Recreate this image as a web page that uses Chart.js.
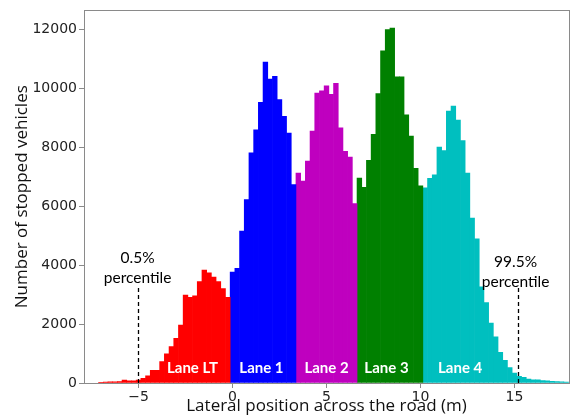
<!DOCTYPE html>
<html>
<head>
<meta charset="utf-8">
<script src="https://cdn.jsdelivr.net/npm/chart.js@4/dist/chart.umd.min.js"></script>
<style>
  html, body { margin: 0; padding: 0; background: #fff; }
  #wrap { width: 574px; height: 419px; }
</style>
</head>
<body>
<div id="wrap"><canvas id="histChart"></canvas></div>
<script>
// Bin centres (m) and counts, one pair of arrays per lane (0.25 m bins)
const ltCenters = [-7.0, -6.75, -6.5, -6.25, -6.0, -5.75, -5.5, -5.25, -5.0, -4.75, -4.5, -4.25, -4.0, -3.75,
  -3.5, -3.25, -3.0, -2.75, -2.5, -2.25, -2.0, -1.75, -1.5, -1.25, -1.0, -0.75, -0.5, -0.25];
const ltCounts = [10, 30, 40, 40, 50, 100, 70, 70, 100, 160, 240, 430, 430, 730,
  990, 1240, 1520, 1970, 2990, 2910, 2960, 3450, 3840, 3740, 3600, 3450, 3210, 2910];

const lane1Centers = [0, 0.25, 0.5, 0.75, 1.0, 1.25, 1.5, 1.75, 2.0, 2.25, 2.5, 2.75, 3.0, 3.25];
const lane1Counts = [3770, 3900, 5160, 6230, 7820, 8600, 9540, 10900, 10330, 10420, 9630, 9060, 8490, 6740];

const lane2Centers = [3.5, 3.75, 4.0, 4.25, 4.5, 4.75, 5.0, 5.25, 5.5, 5.75, 6.0, 6.25, 6.5];
const lane2Counts = [7130, 6860, 7540, 8560, 9850, 9930, 10100, 9810, 10180, 8670, 7870, 7680, 6100];

const lane3Centers = [6.75, 7.0, 7.25, 7.5, 7.75, 8.0, 8.25, 8.5, 8.75, 9.0, 9.25, 9.5, 9.75, 10.0];
const lane3Counts = [6960, 6650, 7570, 8450, 9830, 11290, 12010, 12060, 10400, 10400, 9110, 8390, 7290, 6700];

const lane4Centers = [10.25, 10.5, 10.75, 11.0, 11.25, 11.5, 11.75, 12.0, 12.25, 12.5, 12.75, 13.0, 13.25,
  13.5, 13.75, 14.0, 14.25, 14.5, 14.75, 15.0, 15.25, 15.5, 15.75, 16.0, 16.25, 16.5, 16.75, 17.0, 17.25,
  17.5, 17.75];
const lane4Counts = [6630, 6950, 7070, 8020, 7900, 9240, 9410, 8930, 8240, 7130, 5600, 4900, 3270,
  2730, 2040, 1570, 1040, 770, 520, 340, 230, 190, 130, 110, 110, 80, 70, 60, 50, 40, 30];

const laneNames = ["Lane LT", "Lane 1", "Lane 2", "Lane 3", "Lane 4"];
const laneColors = ["#ff0000", "#0000ff", "#bf00bf", "#008000", "#00bfbf"];

// 0.5% and 99.5% percentile positions (m)
const percentileNames = ["0.5%", "99.5%"];
const percentileValues = [-5.05, 15.21];

const xTicks = [-5, 0, 5, 10, 15];
const yTicks = [0, 2000, 4000, 6000, 8000, 10000, 12000];

// where the lane names sit (data coords)
const laneLabelX = [-2.13, 1.54, 5.0, 8.19, 12.11];
const laneLabelY = 520;

const pairs = (xs, ys) => xs.map((x, i) => ({ x, y: ys[i] }));
const laneData = [
  pairs(ltCenters, ltCounts),
  pairs(lane1Centers, lane1Counts),
  pairs(lane2Centers, lane2Counts),
  pairs(lane3Centers, lane3Counts),
  pairs(lane4Centers, lane4Counts),
];

const axisGray = "#8a8a8a";
const titleFont = "'Open Sans', Lato, sans-serif";

// frame, lane names and percentile markers
const annotations = {
  id: "annotations",
  afterDatasetsDraw(chart) {
    const { ctx, chartArea: a, scales: { x, y } } = chart;
    ctx.save();

    // lane names
    ctx.fillStyle = "#fff";
    ctx.font = "bold 15px Lato, 'Open Sans', sans-serif";
    ctx.textAlign = "center";
    ctx.textBaseline = "middle";
    laneNames.forEach((name, i) => {
      ctx.fillText(name, x.getPixelForValue(laneLabelX[i]), y.getPixelForValue(laneLabelY));
    });

    // percentile lines
    ctx.strokeStyle = "#000";
    ctx.lineWidth = 1.3;
    ctx.setLineDash([4, 3]);
    percentileValues.forEach((v) => {
      const px = Math.round(x.getPixelForValue(v)) + 0.5;
      ctx.beginPath();
      ctx.moveTo(px, y.getPixelForValue(0));
      ctx.lineTo(px, y.getPixelForValue(3270));
      ctx.stroke();
    });
    ctx.setLineDash([]);

    ctx.fillStyle = "#000";
    ctx.font = "15.5px Lato, 'Open Sans', sans-serif";
    const textX = [x.getPixelForValue(-5.05), x.getPixelForValue(15.06)];
    const textY = [[4250, 3580], [4110, 3440]];
    percentileNames.forEach((name, i) => {
      ctx.fillText(name, textX[i], y.getPixelForValue(textY[i][0]));
      ctx.fillText("percentile", textX[i], y.getPixelForValue(textY[i][1]));
    });

    // axes frame
    ctx.strokeStyle = axisGray;
    ctx.lineWidth = 1;
    ctx.strokeRect(Math.round(a.left) + 0.5, Math.round(a.top) + 0.5,
      Math.round(a.right - a.left), Math.round(a.bottom - a.top));
    ctx.restore();
  },
};

new Chart(document.getElementById("histChart"), {
  type: "bar",
  data: {
    datasets: laneData.map((data, i) => ({
      label: laneNames[i],
      data,
      backgroundColor: laneColors[i],
      borderWidth: 0,
      barPercentage: 1,
      categoryPercentage: 1,
      grouped: false,
    })),
  },
  options: {
    responsive: true,
    maintainAspectRatio: false,
    animation: false,
    layout: { padding: { top: 4, right: 5, left: 0, bottom: 0 } },
    plugins: {
      legend: { display: false },
      tooltip: { enabled: false },
    },
    scales: {
      x: {
        type: "linear",
        offset: false,
        min: -7.9,
        max: 17.9,
        afterBuildTicks: (s) => { s.ticks = xTicks.map((v) => ({ value: v })); },
        afterFit: (s) => { s.height = 36; },
        grid: { display: true, drawOnChartArea: false, offset: false, tickLength: 5, tickColor: axisGray },
        border: { display: false },
        ticks: {
          color: "#222",
          padding: 1,
          maxRotation: 0,
          font: { family: "'DejaVu Sans'", size: 14 },
          callback: (v) => (v < 0 ? "\u2212" + Math.abs(v) : String(v)),
        },
        title: {
          display: true,
          text: "Lateral position across the road (m)",
          color: "#111",
          font: { family: titleFont, size: 17 },
          padding: { top: 0, bottom: 3 },
        },
      },
      y: {
        min: 0,
        max: 12660,
        afterBuildTicks: (s) => { s.ticks = yTicks.map((v) => ({ value: v })); },
        afterFit: (s) => { s.width = 84; },
        grid: { display: true, drawOnChartArea: false, tickLength: 5, tickColor: axisGray },
        border: { display: false },
        ticks: {
          color: "#222",
          padding: 2,
          font: { family: "'DejaVu Sans'", size: 14 },
          callback: (v) => String(v),
        },
        title: {
          display: true,
          text: "Number of stopped vehicles",
          color: "#111",
          font: { family: titleFont, size: 17 },
          padding: { top: 12, bottom: 0 },
        },
      },
    },
  },
  plugins: [annotations],
});
</script>
</body>
</html>
